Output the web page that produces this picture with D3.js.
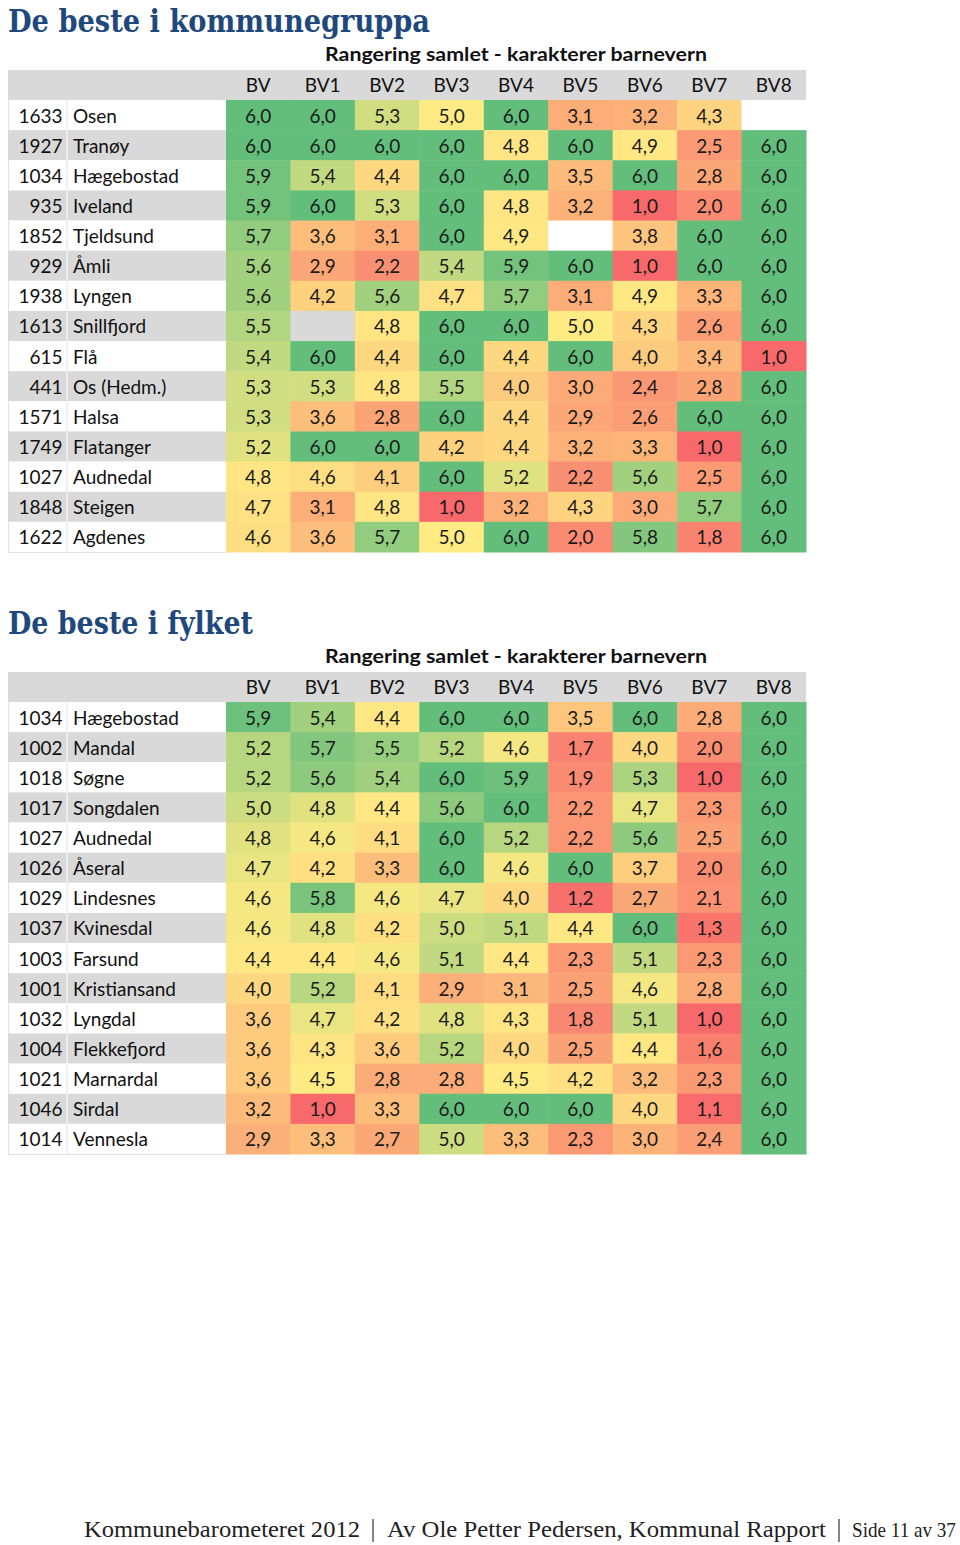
<!DOCTYPE html>
<html>
<head>
<meta charset="utf-8">
<script src="https://cdn.jsdelivr.net/npm/d3@7"></script>
<style>
  html, body { margin: 0; padding: 0; background: #fff; }
  svg { display: block; }
</style>
</head>
<body>
<svg id="chart" width="960" height="1545"></svg>
<script>
// ---------- DATA ----------
const columns = ["BV", "BV1", "BV2", "BV3", "BV4", "BV5", "BV6", "BV7", "BV8"];
const subtitle = "Rangering samlet - karakterer barnevern";

const groupTitle = "De beste i kommunegruppa";
const groupCodes = ["1633", "1927", "1034", "935", "1852", "929", "1938", "1613", "615", "441", "1571", "1749", "1027", "1848", "1622"];
const groupNames = ["Osen", "Tranøy", "Hægebostad", "Iveland", "Tjeldsund", "Åmli", "Lyngen", "Snillfjord", "Flå", "Os (Hedm.)", "Halsa", "Flatanger", "Audnedal", "Steigen", "Agdenes"];
const groupValues = [
  [6.0, 6.0, 5.3, 5.0, 6.0, 3.1, 3.2, 4.3, null],
  [6.0, 6.0, 6.0, 6.0, 4.8, 6.0, 4.9, 2.5, 6.0],
  [5.9, 5.4, 4.4, 6.0, 6.0, 3.5, 6.0, 2.8, 6.0],
  [5.9, 6.0, 5.3, 6.0, 4.8, 3.2, 1.0, 2.0, 6.0],
  [5.7, 3.6, 3.1, 6.0, 4.9, null, 3.8, 6.0, 6.0],
  [5.6, 2.9, 2.2, 5.4, 5.9, 6.0, 1.0, 6.0, 6.0],
  [5.6, 4.2, 5.6, 4.7, 5.7, 3.1, 4.9, 3.3, 6.0],
  [5.5, null, 4.8, 6.0, 6.0, 5.0, 4.3, 2.6, 6.0],
  [5.4, 6.0, 4.4, 6.0, 4.4, 6.0, 4.0, 3.4, 1.0],
  [5.3, 5.3, 4.8, 5.5, 4.0, 3.0, 2.4, 2.8, 6.0],
  [5.3, 3.6, 2.8, 6.0, 4.4, 2.9, 2.6, 6.0, 6.0],
  [5.2, 6.0, 6.0, 4.2, 4.4, 3.2, 3.3, 1.0, 6.0],
  [4.8, 4.6, 4.1, 6.0, 5.2, 2.2, 5.6, 2.5, 6.0],
  [4.7, 3.1, 4.8, 1.0, 3.2, 4.3, 3.0, 5.7, 6.0],
  [4.6, 3.6, 5.7, 5.0, 6.0, 2.0, 5.8, 1.8, 6.0]
];

const countyTitle = "De beste i fylket";
const countyCodes = ["1034", "1002", "1018", "1017", "1027", "1026", "1029", "1037", "1003", "1001", "1032", "1004", "1021", "1046", "1014"];
const countyNames = ["Hægebostad", "Mandal", "Søgne", "Songdalen", "Audnedal", "Åseral", "Lindesnes", "Kvinesdal", "Farsund", "Kristiansand", "Lyngdal", "Flekkefjord", "Marnardal", "Sirdal", "Vennesla"];
const countyValues = [
  [5.9, 5.4, 4.4, 6.0, 6.0, 3.5, 6.0, 2.8, 6.0],
  [5.2, 5.7, 5.5, 5.2, 4.6, 1.7, 4.0, 2.0, 6.0],
  [5.2, 5.6, 5.4, 6.0, 5.9, 1.9, 5.3, 1.0, 6.0],
  [5.0, 4.8, 4.4, 5.6, 6.0, 2.2, 4.7, 2.3, 6.0],
  [4.8, 4.6, 4.1, 6.0, 5.2, 2.2, 5.6, 2.5, 6.0],
  [4.7, 4.2, 3.3, 6.0, 4.6, 6.0, 3.7, 2.0, 6.0],
  [4.6, 5.8, 4.6, 4.7, 4.0, 1.2, 2.7, 2.1, 6.0],
  [4.6, 4.8, 4.2, 5.0, 5.1, 4.4, 6.0, 1.3, 6.0],
  [4.4, 4.4, 4.6, 5.1, 4.4, 2.3, 5.1, 2.3, 6.0],
  [4.0, 5.2, 4.1, 2.9, 3.1, 2.5, 4.6, 2.8, 6.0],
  [3.6, 4.7, 4.2, 4.8, 4.3, 1.8, 5.1, 1.0, 6.0],
  [3.6, 4.3, 3.6, 5.2, 4.0, 2.5, 4.4, 1.6, 6.0],
  [3.6, 4.5, 2.8, 2.8, 4.5, 4.2, 3.2, 2.3, 6.0],
  [3.2, 1.0, 3.3, 6.0, 6.0, 6.0, 4.0, 1.1, 6.0],
  [2.9, 3.3, 2.7, 5.0, 3.3, 2.3, 3.0, 2.4, 6.0]
];

const footerParts = ["Kommunebarometeret 2012", "Av Ole Petter Pedersen, Kommunal Rapport", "Side 11 av 37"];

// ---------- DRAW ----------
const svg = d3.select("#chart");
const GRAY = "#D9D9D9";
const TITLE_BLUE = "#1F497D";
const FONT = "Lato, 'Open Sans', sans-serif";
const fmt = v => d3.format(".1f")(v).replace(".", ",");

const tableLeft = 8, codeRight = 67, labelRight = 226, tableRight = 806;

function drawTable(offsetY, title, codes, names, values) {
  const g = svg.append("g").attr("transform", `translate(0,${offsetY})`);

  // title
  g.append("text")
    .attr("x", tableLeft).attr("y", 32)
    .attr("font-family", "'DejaVu Serif', 'Liberation Serif', serif")
    .attr("font-weight", "bold")
    .attr("font-size", 31.5)
    .attr("fill", TITLE_BLUE)
    .attr("textLength", title === groupTitle ? 422 : 245)
    .attr("lengthAdjust", "spacingAndGlyphs")
    .text(title);

  const x = d3.scaleBand().domain(columns).range([labelRight, tableRight]);
  const y = d3.scaleBand().domain(d3.range(codes.length)).range([100, 552]);
  const headerTop = 70, headerH = 30;

  // subtitle
  g.append("text")
    .attr("x", (labelRight + tableRight) / 2).attr("y", 61)
    .attr("text-anchor", "middle")
    .attr("font-family", FONT).attr("font-weight", "bold").attr("font-size", 18.5)
    .attr("fill", "#111")
    .attr("textLength", 382).attr("lengthAdjust", "spacingAndGlyphs")
    .text(subtitle);

  // header row
  g.append("rect").attr("x", tableLeft).attr("y", headerTop)
    .attr("width", tableRight - tableLeft).attr("height", headerH).attr("fill", GRAY);
  g.selectAll("text.hdr").data(columns).join("text").attr("class", "hdr")
    .attr("x", d => x(d) + x.bandwidth() / 2).attr("y", headerTop + 22)
    .attr("text-anchor", "middle")
    .attr("font-family", FONT).attr("font-size", 19).attr("fill", "#111")
    .text(d => d);

  // color scale (Excel 3-colour scale: min / 50th percentile / max)
  const all = values.flat().filter(v => v != null).sort(d3.ascending);
  const color = d3.scaleLinear()
    .domain([d3.min(all), d3.quantile(all, 0.5), d3.max(all)])
    .range(["#F8696B", "#FFEB84", "#63BE7B"])
    .interpolate(d3.interpolateRgb);

  const rows = g.selectAll("g.row").data(codes.map((c, i) => ({ i, code: c, name: names[i], vals: values[i] })))
    .join("g").attr("class", "row");

  // label cells
  rows.append("rect")
    .attr("x", tableLeft).attr("y", d => y(d.i))
    .attr("width", labelRight - tableLeft).attr("height", y.bandwidth())
    .attr("fill", d => d.i % 2 === 1 ? GRAY : "#fff");
  rows.append("line")
    .attr("x1", codeRight).attr("x2", codeRight)
    .attr("y1", d => y(d.i)).attr("y2", d => y(d.i) + y.bandwidth())
    .attr("stroke", d => d.i % 2 === 1 ? "#fff" : "#DDE2EA").attr("stroke-width", 1);
  rows.append("line")
    .attr("x1", tableLeft + 0.5).attr("x2", tableLeft + 0.5)
    .attr("y1", d => y(d.i)).attr("y2", d => y(d.i) + y.bandwidth())
    .attr("stroke", d => d.i % 2 === 1 ? GRAY : "#DDE2EA").attr("stroke-width", 1);

  rows.append("text")
    .attr("x", 62.5).attr("y", d => y(d.i) + 22.5)
    .attr("text-anchor", "end")
    .attr("font-family", FONT).attr("font-size", 19).attr("fill", "#111")
    .text(d => d.code);
  rows.append("text")
    .attr("x", 73).attr("y", d => y(d.i) + 22.5)
    .attr("font-family", FONT).attr("font-size", 19).attr("fill", "#111")
    .text(d => d.name);

  // value cells
  const cells = rows.selectAll("g.cell")
    .data(d => d.vals.map((v, j) => ({ i: d.i, col: columns[j], v })))
    .join("g").attr("class", "cell");
  cells.append("rect")
    .attr("x", d => x(d.col)).attr("y", d => y(d.i))
    .attr("width", x.bandwidth() + 0.5).attr("height", y.bandwidth() + 0.5)
    .attr("fill", d => d.v == null ? (d.i % 2 === 1 ? GRAY : "#fff") : color(d.v));
  cells.filter(d => d.v != null).append("text")
    .attr("x", d => x(d.col) + x.bandwidth() / 2).attr("y", d => y(d.i) + 22.5)
    .attr("text-anchor", "middle")
    .attr("font-family", FONT).attr("font-size", 19).attr("fill", "#1a1a1a")
    .text(d => fmt(d.v));

  // bottom border under label column
  g.append("line")
    .attr("x1", tableLeft).attr("x2", labelRight)
    .attr("y1", 552.5).attr("y2", 552.5)
    .attr("stroke", "#DDE2EA").attr("stroke-width", 1);
}

drawTable(0, groupTitle, groupCodes, groupNames, groupValues);
drawTable(602, countyTitle, countyCodes, countyNames, countyValues);

// footer: each part is squeezed horizontally (by a transform) to its measured span
const footer = svg.append("g").attr("font-family", "'Liberation Serif', 'DejaVu Serif', serif").attr("fill", "#222");
const footerSpecs = [
  { text: footerParts[0], x: 84, len: 276, size: 24 },
  { text: footerParts[1], x: 387, len: 439, size: 24 },
  { text: footerParts[2], x: 852, len: 104, size: 21 }
];
footer.selectAll("text").data(footerSpecs).join("text")
  .attr("x", 0).attr("y", 0)
  .attr("font-size", d => d.size)
  .text(d => d.text)
  .each(function (d) {
    const w = this.getComputedTextLength();
    d3.select(this).attr("transform", `translate(${d.x},1537) scale(${d.len / w},1)`);
  });
footer.selectAll("line").data([373, 839]).join("line")
  .attr("x1", d => d).attr("x2", d => d)
  .attr("y1", 1519).attr("y2", 1542)
  .attr("stroke", "#333").attr("stroke-width", 1.2);
</script>
</body>
</html>
